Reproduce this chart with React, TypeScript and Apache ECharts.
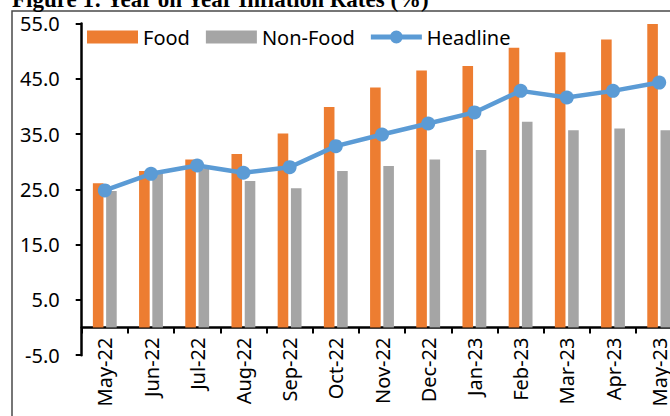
import React, { useEffect, useRef } from "react";
import * as echarts from "echarts";

const categories = [
  "May-22", "Jun-22", "Jul-22", "Aug-22", "Sep-22", "Oct-22", "Nov-22",
  "Dec-22", "Jan-23", "Feb-23", "Mar-23", "Apr-23", "May-23",
];
const food = [26.1, 28.3, 30.4, 31.4, 35.1, 39.9, 43.4, 46.5, 47.3, 50.6, 49.8, 52.1, 54.9];
const nonFood = [24.7, 27.9, 28.7, 26.5, 25.2, 28.3, 29.2, 30.4, 32.1, 37.2, 35.7, 36.0, 35.7];
const headline = [24.8, 27.8, 29.3, 28.0, 29.0, 32.8, 34.9, 36.9, 38.9, 42.8, 41.6, 42.8, 44.3];
const yMin = -5;
const yMax = 55;
const yStep = 10;
const titleText = "Figure 1: Year on Year Inflation Rates (%)";

const FONT = '"Noto Sans", "Open Sans", sans-serif';
const GRID_H = 331.8;
// x axis sits at value 0 (line, ticks and labels together)
const X_AXIS_OFFSET = -((0 - yMin) / (yMax - yMin)) * GRID_H;
const LINE_ICON =
  "path://M0,5H62.8V11H0Z M23.4,8A8,8 0 1,1 39.4,8A8,8 0 1,1 23.4,8Z";

export default function App() {
  const ref = useRef<HTMLDivElement>(null);
  useEffect(() => {
    if (!ref.current) return;
    const chart = echarts.init(ref.current, undefined, { renderer: "svg" });
    chart.setOption({
      animation: false,
      backgroundColor: "#ffffff",
      textStyle: { fontFamily: FONT },
      graphic: [
        {
          type: "rect",
          shape: { x: 12, y: 11, width: 720, height: 440 },
          style: { fill: "none", stroke: "#4a4a4a", lineWidth: 1.5 },
          silent: true,
        },
        {
          type: "text",
          x: 12,
          y: -1,
          style: {
            text: titleText,
            fontFamily: '"Liberation Serif", "Times New Roman", serif',
            fontWeight: "bold",
            fontSize: 23,
            fill: "#000",
            verticalAlign: "middle",
          },
        },
      ],
      legend: {
        left: 87,
        top: 27,
        padding: 0,
        itemWidth: 51,
        itemHeight: 13,
        itemGap: 16,
        textStyle: { fontSize: 20, color: "#000", fontFamily: FONT },
        data: [
          { name: "Food", icon: "rect" },
          { name: "Non-Food", icon: "rect" },
          { name: "Headline", icon: LINE_ICON, itemStyle: { color: "#5B9BD5" } },
        ],
      },
      grid: {
        left: 81.7,
        top: 23.4,
        width: 600.6,
        height: GRID_H,
        containLabel: false,
        outerBoundsMode: "none",
      },
      xAxis: {
        type: "category",
        data: categories,
        offset: X_AXIS_OFFSET,
        axisLine: { onZero: false, lineStyle: { color: "#000", width: 2.5 } },
        axisTick: { show: true, length: 6, lineStyle: { color: "#000", width: 2 } },
        axisLabel: { rotate: 90, margin: 10, fontSize: 20, color: "#000", fontFamily: FONT, interval: 0 },
        splitLine: { show: false },
      },
      yAxis: {
        type: "value",
        min: yMin,
        max: yMax,
        interval: yStep,
        axisLine: { show: true, lineStyle: { color: "#000", width: 2.5 } },
        axisTick: { show: true, length: 6, lineStyle: { color: "#000", width: 2 } },
        axisLabel: {
          margin: 22,
          fontSize: 20,
          color: "#000",
          fontFamily: FONT,
          formatter: (v: number) => v.toFixed(1),
        },
        splitLine: { show: false },
      },
      series: [
        {
          name: "Food",
          type: "bar",
          data: food,
          barWidth: 10.6,
          barGap: "25%",
          itemStyle: { color: "#ED7D31" },
        },
        {
          name: "Non-Food",
          type: "bar",
          data: nonFood,
          barWidth: 10.6,
          barGap: "25%",
          itemStyle: { color: "#A5A5A5" },
        },
        {
          name: "Headline",
          type: "line",
          data: headline,
          symbol: "circle",
          symbolSize: 14,
          z: 5,
          lineStyle: { color: "#5B9BD5", width: 4.5 },
          itemStyle: { color: "#5B9BD5" },
        },
      ],
    });
    return () => chart.dispose();
  }, []);
  return (
    <div
      ref={ref}
      style={{ position: "fixed", left: 0, top: 0, width: 670, height: 416 }}
    />
  );
}
